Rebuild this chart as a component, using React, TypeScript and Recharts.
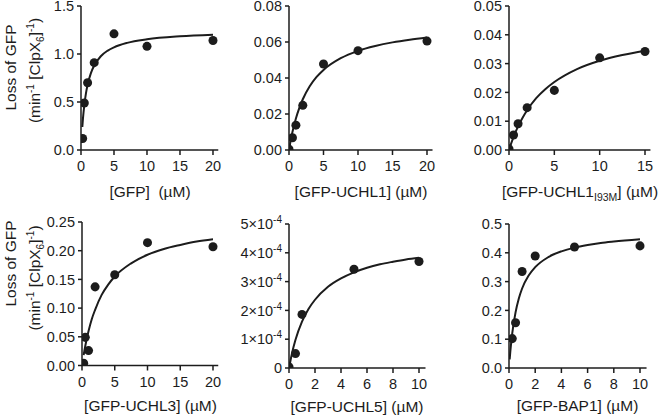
import React from "react";
import { ScatterChart, Scatter, XAxis, YAxis, ZAxis } from "recharts";

const FONT = "'Liberation Sans', Arial, Helvetica, sans-serif";
const INK = "#1c1c1c";

// --- measured points (x in µM, y = loss of GFP rate) ---
const gfpX = [0.25, 0.5, 1, 2, 5, 10, 20];
const gfpY = [0.12, 0.49, 0.7, 0.91, 1.21, 1.08, 1.14];
const gfpFitX = [0.2, 0.3, 0.5, 0.75, 1, 1.5, 2, 3, 4, 5, 7, 10, 15, 20];
const gfpFitY = [0.24, 0.33, 0.466, 0.59, 0.679, 0.801, 0.88, 0.977, 1.033, 1.07, 1.116, 1.153, 1.184, 1.2];

const uchl1X = [0, 0.5, 1, 2, 5, 10, 20];
const uchl1Y = [0.0004, 0.0068, 0.0138, 0.0248, 0.0478, 0.0552, 0.0605];
const uchl1FitX = [0, 0.25, 0.5, 1, 1.5, 2, 3, 4, 5, 7.5, 10, 12.5, 15, 17.5, 20];
const uchl1FitY = [0, 0.0054, 0.01, 0.0175, 0.0234, 0.0282, 0.0354, 0.0406, 0.0445, 0.051, 0.0551, 0.0578, 0.0598, 0.0613, 0.0625];

const i93mX = [0, 0.5, 1, 2, 5, 10, 15];
const i93mY = [0.0004, 0.0052, 0.0091, 0.0147, 0.0207, 0.032, 0.0342];
const i93mFitX = [0, 0.25, 0.5, 1, 1.5, 2, 3, 4, 5, 7.5, 10, 12.5, 15];
const i93mFitY = [0, 0.0024, 0.0045, 0.0082, 0.0112, 0.0138, 0.018, 0.0211, 0.0236, 0.0281, 0.031, 0.033, 0.0345];

const uchl3X = [0.25, 0.5, 1, 2, 5, 10, 20];
const uchl3Y = [0.004, 0.049, 0.026, 0.137, 0.158, 0.214, 0.207];
const uchl3FitX = [0.25, 0.5, 1, 1.5, 2, 3, 4, 5, 7.5, 10, 12.5, 15, 17.5, 20];
const uchl3FitY = [0.018, 0.034, 0.06, 0.081, 0.097, 0.123, 0.141, 0.155, 0.178, 0.193, 0.203, 0.21, 0.216, 0.22];

const uchl5X = [0, 0.5, 1, 5, 10];
const uchl5Y = [0.04e-4, 0.5e-4, 1.86e-4, 3.43e-4, 3.7e-4];
const uchl5FitX = [0, 0.25, 0.5, 1, 1.5, 2, 3, 4, 5, 6, 7, 8, 9, 10];
const uchl5FitY = [0, 0.55e-4, 0.98e-4, 1.61e-4, 2.05e-4, 2.37e-4, 2.82e-4, 3.11e-4, 3.32e-4, 3.48e-4, 3.6e-4, 3.69e-4, 3.77e-4, 3.83e-4];

const bap1X = [0.25, 0.5, 1, 2, 5, 10];
const bap1Y = [0.102, 0.157, 0.335, 0.389, 0.42, 0.424];
const bap1FitX = [0.05, 0.1, 0.25, 0.5, 0.75, 1, 1.5, 2, 3, 4, 5, 6, 7, 8, 10];
const bap1FitY = [0.03, 0.057, 0.121, 0.193, 0.241, 0.276, 0.321, 0.35, 0.385, 0.405, 0.418, 0.427, 0.434, 0.439, 0.447];

// --- axis ticks ---
const xTicks20 = [0, 5, 10, 15, 20];
const xTicks15 = [0, 5, 10, 15];
const xTicks10 = [0, 2, 4, 6, 8, 10];
const gfpYTicks = [0, 0.5, 1, 1.5];
const uchl1YTicks = [0, 0.02, 0.04, 0.06, 0.08];
const i93mYTicks = [0, 0.01, 0.02, 0.03, 0.04, 0.05];
const uchl3YTicks = [0, 0.05, 0.1, 0.15, 0.2, 0.25];
const uchl5YTicks = [0, 1e-4, 2e-4, 3e-4, 4e-4, 5e-4];
const bap1YTicks = [0, 0.1, 0.2, 0.3, 0.4, 0.5];

type Pt = { x: number; y: number };
const zip = (xs: number[], ys: number[]): Pt[] => xs.map((x, i) => ({ x, y: ys[i] }));

const YW = 85;
const MT = 20;
const MR = 15;
const XH = 60;

const SciTick = (props: any) => {
  const { x, y, payload } = props;
  const n = Math.round(payload.value * 1e4);
  return (
    <text x={x} y={y} dy="0.355em" textAnchor="end" fontSize={14.5} fill={INK} fontFamily={FONT}>
      {n === 0 ? "0" : `${n}×10`}
      {n !== 0 && (
        <tspan dy={-6} fontSize={10}>
          -4
        </tspan>
      )}
    </text>
  );
};

type PanelProps = {
  x0: number;
  xEnd: number;
  top: number;
  bottom: number;
  xTicks: number[];
  xMax: number;
  yTicks: number[];
  decimals?: number;
  sci?: boolean;
  points: Pt[];
  fit: Pt[];
  xLabel: React.ReactNode;
  labelGap: number;
  yLabel?: { y1: number; y2: number };
};

function Panel(p: PanelProps) {
  const last = p.xTicks[p.xTicks.length - 1];
  const pw = ((p.xEnd - p.x0) * p.xMax) / last;
  const ph = p.bottom - p.top;
  const left = p.x0 - YW;
  const top = p.top - MT;
  const width = YW + pw + MR;
  const height = MT + ph + XH;
  const yMax = p.yTicks[p.yTicks.length - 1];
  const axisStyle = { stroke: INK, strokeWidth: 1.5 };
  const tickStyle = { fontSize: 14.5, fill: INK, fontFamily: FONT };

  const xLabelContent = () => (
    <text
      x={YW + (p.xEnd - p.x0) / 2 + 3}
      y={MT + ph + p.labelGap}
      textAnchor="middle"
      fontSize={15.5}
      fill={INK}
      fontFamily={FONT}
    >
      {p.xLabel}
    </text>
  );

  const yLabelContent = () => {
    if (!p.yLabel) return null;
    const a = { x: 16 - left, y: p.yLabel.y1 - top };
    const b = { x: 40 - left, y: p.yLabel.y2 - top };
    return (
      <g fontSize={15.5} fill={INK} fontFamily={FONT}>
        <text x={a.x} y={a.y} textAnchor="middle" transform={`rotate(-90, ${a.x}, ${a.y})`}>
          Loss of GFP
        </text>
        <text x={b.x} y={b.y} textAnchor="middle" transform={`rotate(-90, ${b.x}, ${b.y})`}>
          (min
          <tspan dy={-6} fontSize={10}>-1</tspan>
          <tspan dy={6}> [ClpX</tspan>
          <tspan dy={4} fontSize={10}>6</tspan>
          <tspan dy={-4}>]</tspan>
          <tspan dy={-6} fontSize={10}>-1</tspan>
          <tspan dy={6}>)</tspan>
        </text>
      </g>
    );
  };

  return (
    <div style={{ position: "absolute", left, top, width, height }}>
      <ScatterChart width={width} height={height} margin={{ top: MT, right: MR, left: 0, bottom: 0 }}>
        <XAxis
          type="number"
          dataKey="x"
          domain={[0, p.xMax]}
          ticks={p.xTicks}
          allowDataOverflow
          height={XH}
          tickSize={5}
          tickMargin={6}
          axisLine={axisStyle}
          tickLine={axisStyle}
          tick={tickStyle}
          label={{ content: xLabelContent }}
        />
        <YAxis
          type="number"
          dataKey="y"
          domain={[0, yMax]}
          ticks={p.yTicks}
          allowDataOverflow
          width={YW}
          tickSize={4}
          tickMargin={3}
          axisLine={axisStyle}
          tickLine={axisStyle}
          tick={p.sci ? <SciTick /> : tickStyle}
          tickFormatter={(v: number) => v.toFixed(p.decimals ?? 1)}
          label={{ content: yLabelContent }}
        />
        <ZAxis type="number" range={[68, 68]} />
        <Scatter
          data={p.fit}
          fill="none"
          line={{ stroke: INK, strokeWidth: 2 }}
          lineJointType="monotoneX"
          shape={() => <g />}
          isAnimationActive={false}
        />
        <Scatter data={p.points} fill={INK} isAnimationActive={false} />
      </ScatterChart>
    </div>
  );
}

export default function App() {
  return (
    <div style={{ position: "absolute", left: 0, top: 0, width: 660, height: 417, background: "#fff", overflow: "hidden" }}>
      <Panel
        x0={81}
        xEnd={213}
        top={5.5}
        bottom={149.5}
        xTicks={xTicks20}
        xMax={20.8}
        yTicks={gfpYTicks}
        decimals={1}
        points={zip(gfpX, gfpY)}
        fit={zip(gfpFitX, gfpFitY)}
        xLabel={"[GFP]\u00a0\u00a0(µM)"}
        labelGap={47}
        yLabel={{ y1: 67, y2: 70 }}
      />
      <Panel
        x0={289}
        xEnd={427}
        top={5.5}
        bottom={149.5}
        xTicks={xTicks20}
        xMax={20.8}
        yTicks={uchl1YTicks}
        decimals={2}
        points={zip(uchl1X, uchl1Y)}
        fit={zip(uchl1FitX, uchl1FitY)}
        xLabel={"[GFP-UCHL1] (µM)"}
        labelGap={47}
      />
      <Panel
        x0={509}
        xEnd={645}
        top={5.5}
        bottom={149.5}
        xTicks={xTicks15}
        xMax={15.6}
        yTicks={i93mYTicks}
        decimals={2}
        points={zip(i93mX, i93mY)}
        fit={zip(i93mFitX, i93mFitY)}
        xLabel={
          <>
            [GFP-UCHL1
            <tspan dy={4} fontSize={10.5}>I93M</tspan>
            <tspan dy={-4}>] (µM)</tspan>
          </>
        }
        labelGap={47}
      />
      <Panel
        x0={82}
        xEnd={213}
        top={222}
        bottom={365.5}
        xTicks={xTicks20}
        xMax={20.8}
        yTicks={uchl3YTicks}
        decimals={2}
        points={zip(uchl3X, uchl3Y)}
        fit={zip(uchl3FitX, uchl3FitY)}
        xLabel={"[GFP-UCHL3] (µM)"}
        labelGap={45.5}
        yLabel={{ y1: 263.5, y2: 278 }}
      />
      <Panel
        x0={289}
        xEnd={419}
        top={223.5}
        bottom={367.5}
        xTicks={xTicks10}
        xMax={10.5}
        yTicks={uchl5YTicks}
        sci
        points={zip(uchl5X, uchl5Y)}
        fit={zip(uchl5FitX, uchl5FitY)}
        xLabel={"[GFP-UCHL5] (µM)"}
        labelGap={43.5}
      />
      <Panel
        x0={509}
        xEnd={640}
        top={223.5}
        bottom={367.5}
        xTicks={xTicks10}
        xMax={10.5}
        yTicks={bap1YTicks}
        decimals={1}
        points={zip(bap1X, bap1Y)}
        fit={zip(bap1FitX, bap1FitY)}
        xLabel={"[GFP-BAP1] (µM)"}
        labelGap={43.5}
      />
    </div>
  );
}
